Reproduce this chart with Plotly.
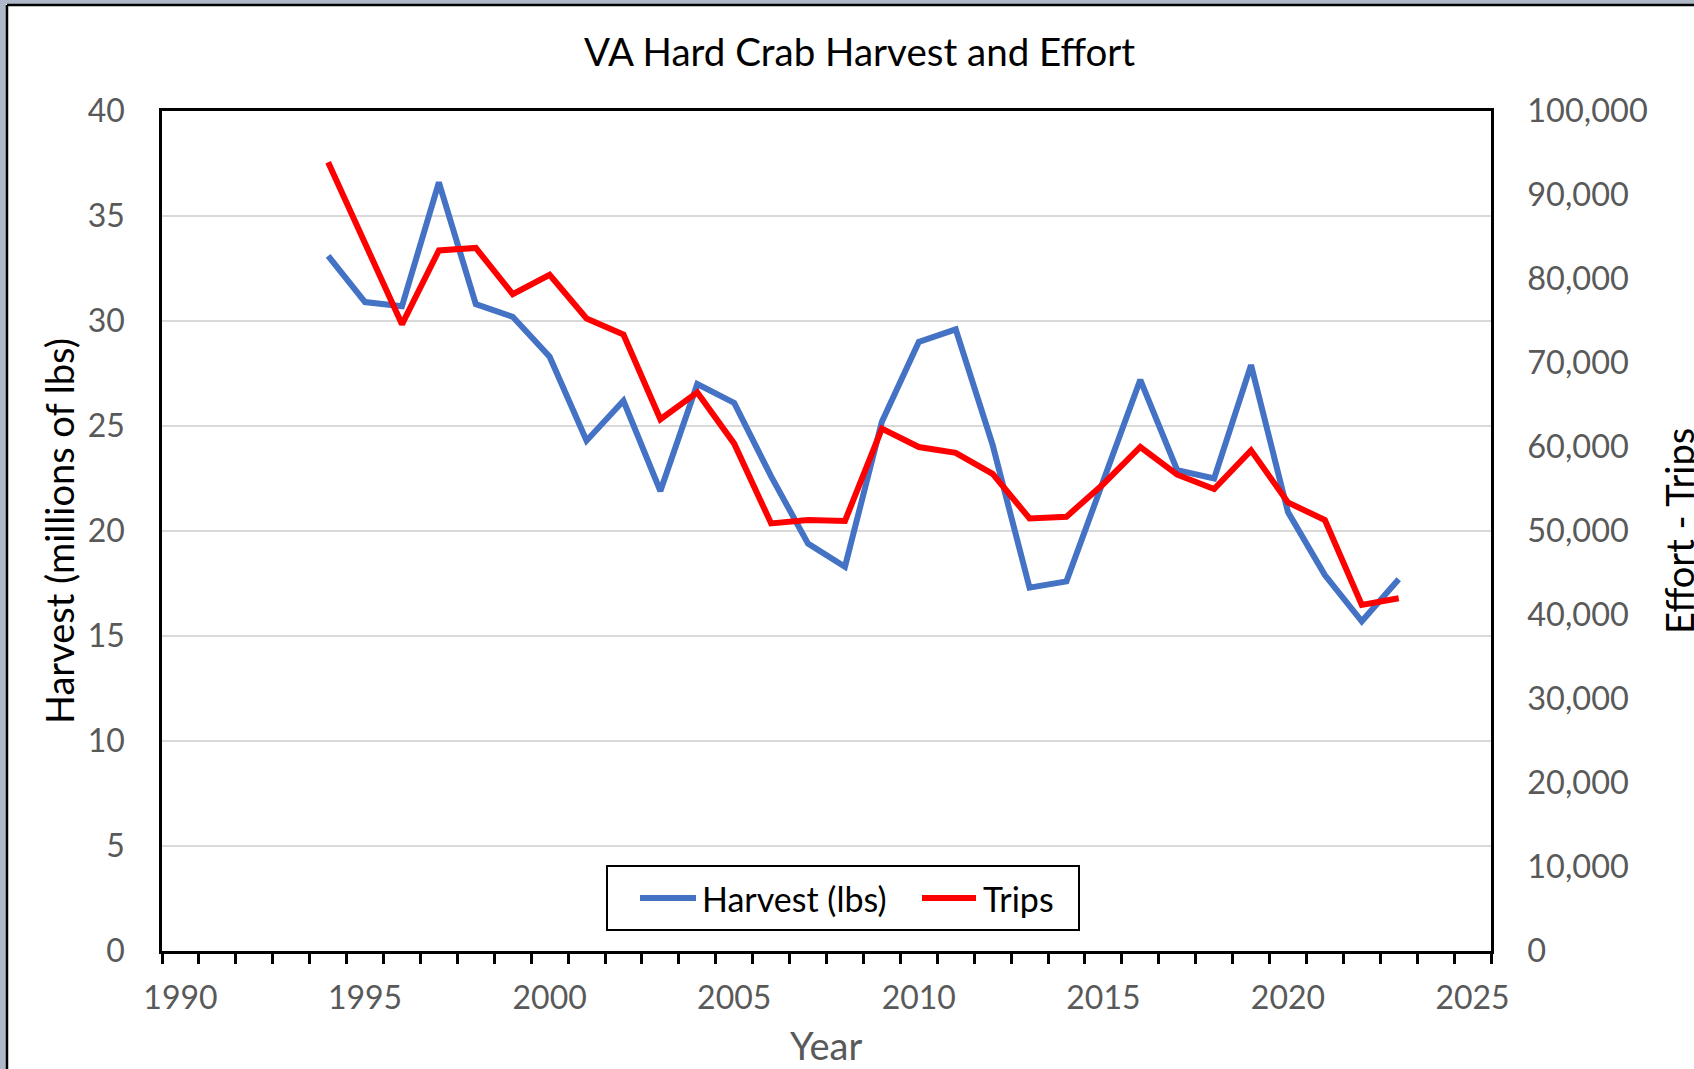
import plotly.graph_objects as go

# VA hard crab harvest (millions of lbs) and effort (trips)
years = list(range(1994, 2024))
harvest = [33.1, 30.9, 30.7, 36.6, 30.8, 30.2, 28.3, 24.3, 26.2, 21.9,
           27.0, 26.1, 22.6, 19.4, 18.3, 25.2, 29.0, 29.6, 24.1, 17.3,
           17.6, 22.4, 27.2, 22.9, 22.5, 27.9, 20.9, 17.9, 15.7, 17.7]
trips = [93900, 84300, 74600, 83400, 83700, 78200, 80500, 75300, 73400, 63300,
         66500, 60400, 50900, 51300, 51200, 62200, 60000, 59300, 56800, 51500,
         51700, 55600, 60000, 56700, 55000, 59600, 53400, 51300, 41200, 42000]
year_labels = [1990, 1995, 2000, 2005, 2010, 2015, 2020, 2025]

W, H = 1694, 1069
L, R, T, B = 162, 203, 111, 118
PW, PH = W - L - R, H - T - B
FONT = "Lato"
GREY = "#595959"
BLUE = "#4472C4"
RED = "#FF0000"


def px_x(px):
    return (px - L) / PW


def px_y(py):
    return (H - B - py) / PH


fig = go.Figure()
fig.add_trace(go.Scatter(x=years, y=harvest, name="Harvest (lbs)", mode="lines",
                         line=dict(color=BLUE, width=6)))
fig.add_trace(go.Scatter(x=years, y=trips, name="Trips", mode="lines", yaxis="y2",
                         line=dict(color=RED, width=6)))

fig.update_layout(
    width=W, height=H,
    margin=dict(l=L, r=R, t=T, b=B, pad=0),
    paper_bgcolor="white", plot_bgcolor="white",
    font=dict(family=FONT, size=32, color=GREY),
    showlegend=False,
    xaxis=dict(range=[1989.5, 2025.5], tickmode="array", tickvals=year_labels,
               ticks="", ticklabelstandoff=17, showgrid=False, zeroline=False,
               automargin=False,
               showline=True, linecolor="black", linewidth=2.5, mirror=True,
               minor=dict(tickmode="linear", tick0=1989.5, dtick=1, ticks="outside",
                          ticklen=10, tickwidth=2.5, tickcolor="black", showgrid=False)),
    yaxis=dict(range=[0, 40], dtick=5, ticks="", ticklabelstandoff=28,
               showgrid=True, gridcolor="#D9D9D9", gridwidth=2, zeroline=False,
               automargin=False,
               showline=True, linecolor="black", linewidth=2.5),
    yaxis2=dict(range=[0, 100000], dtick=10000, tickformat=",", ticks="",
                ticklabelstandoff=27, overlaying="y", side="right", showgrid=False,
                automargin=False, tickfont=dict(size=32.5),
                zeroline=False, showline=True, linecolor="black", linewidth=2.5),
)

# titles
fig.add_annotation(text="VA Hard Crab Harvest and Effort", xref="paper", yref="paper",
                   x=px_x(859), y=px_y(51), xanchor="center", yanchor="middle",
                   showarrow=False, font=dict(family=FONT, size=38.5, color="black"))
fig.add_annotation(text="Harvest (millions of lbs)", xref="paper", yref="paper",
                   x=px_x(59), y=px_y(531), xanchor="center", yanchor="middle",
                   textangle=-90, showarrow=False,
                   font=dict(family=FONT, size=38, color="black"))
# the reference crops this title at the right edge
fig.add_annotation(text="Effort - Trips", xref="paper", yref="paper",
                   x=px_x(1704), y=px_y(531), xanchor="right", yanchor="middle",
                   textangle=-90, showarrow=False,
                   font=dict(family=FONT, size=38, color="black"))
fig.add_annotation(text="Year", xref="paper", yref="paper",
                   x=px_x(826), y=px_y(1045), xanchor="center", yanchor="middle",
                   showarrow=False, font=dict(family=FONT, size=38, color=GREY))

# legend box drawn like the Excel one (long line samples)
fig.add_shape(type="rect", xref="paper", yref="paper", x0=px_x(607), x1=px_x(1079),
              y0=px_y(930), y1=px_y(866), fillcolor="white",
              line=dict(color="black", width=2))
legend_items = [("Harvest (lbs)", BLUE, 640, 696, 700), ("Trips", RED, 922, 976, 981)]
for name, color, lx0, lx1, tx in legend_items:
    fig.add_shape(type="line", xref="paper", yref="paper", x0=px_x(lx0), x1=px_x(lx1),
                  y0=px_y(898), y1=px_y(898), line=dict(color=color, width=6))
    fig.add_annotation(text=name, xref="paper", yref="paper", x=px_x(tx), y=px_y(898),
                       xanchor="left", yanchor="middle", showarrow=False,
                       font=dict(family=FONT, size=34, color="black"))

# window frame at the left and top edges
frame = "#AEB8C8"
fig.add_shape(type="rect", xref="paper", yref="paper", x0=px_x(0), x1=px_x(6),
              y0=px_y(H), y1=px_y(0), fillcolor=frame, line_width=0, layer="below")
fig.add_shape(type="rect", xref="paper", yref="paper", x0=px_x(0), x1=px_x(W),
              y0=px_y(4), y1=px_y(0), fillcolor=frame, line_width=0, layer="below")
fig.add_shape(type="line", xref="paper", yref="paper", x0=px_x(7), x1=px_x(7),
              y0=px_y(H), y1=px_y(5), line=dict(color="black", width=2.5))
fig.add_shape(type="line", xref="paper", yref="paper", x0=px_x(7), x1=px_x(W),
              y0=px_y(5), y1=px_y(5), line=dict(color="black", width=2.5))

# drop the browser's default 8px body margin so the figure sits at the page corner
fig.write_html("out.html", config={"displayModeBar": False},
               post_script="document.body.style.margin = '0';")
